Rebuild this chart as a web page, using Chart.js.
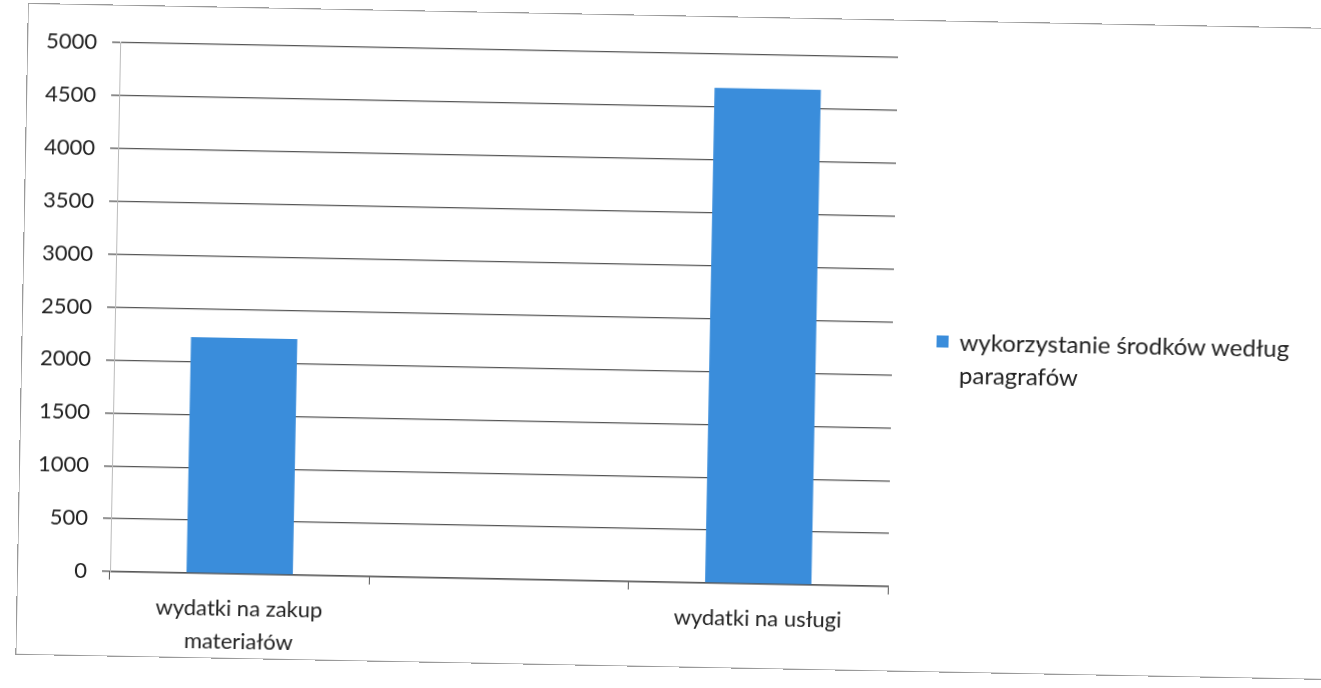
<!DOCTYPE html>
<html>
<head>
<meta charset="utf-8">
<script src="https://cdn.jsdelivr.net/npm/chart.js@4/dist/chart.umd.min.js"></script>
<style>
  html, body { margin: 0; padding: 0; background: #fff; overflow: hidden; }
  #wrap {
    position: absolute; left: 0; top: 0; width: 1321px; height: 688px;
    transform-origin: 500px 315px; transform: rotate(1.1deg);
  }
  #frame {
    position: absolute; left: 22px; top: 12px; width: 1330px; height: 650px;
    border: 1px solid #9a9a9a;
  }
  #legend {
    position: absolute; left: 937px; top: 316px;
    font-family: Lato, sans-serif; font-size: 24px; color: #222; line-height: 33px;
  }
  #legend .box {
    position: absolute; left: 0; top: 11px; width: 12px; height: 12px; background: #3a8ddb;
  }
  #legend .txt { position: absolute; left: 23px; top: 0; white-space: nowrap; }
</style>
</head>
<body>
<div id="wrap">
  <div id="frame"></div>
  <canvas id="chart" width="1321" height="688"></canvas>
  <div id="legend">
    <div class="box"></div>
    <div class="txt">wykorzystanie środków według<br>paragrafów</div>
  </div>
</div>
<script>
// dane wykresu
var categories = [['wydatki na zakup', 'materiałów'], '', 'wydatki na usługi'];
var seriesName = 'wykorzystanie środków według paragrafów';
var values = [2230, null, 4680];
var yTicks = [0, 500, 1000, 1500, 2000, 2500, 3000, 3500, 4000, 4500, 5000];

document.addEventListener('DOMContentLoaded', function () {
    var ctx = document.getElementById('chart').getContext('2d');
    new Chart(ctx, {
        type: 'bar',
        data: {
            labels: categories,
            datasets: [{
                label: seriesName,
                data: values,
                backgroundColor: '#3a8ddb',
                borderWidth: 0,
                categoryPercentage: 1,
                barPercentage: 0.41
            }]
        },
        options: {
            responsive: false,
            animation: false,
            layout: { padding: { top: 50, right: 428, bottom: 0, left: 0 } },
            plugins: {
                legend: { display: false },
                tooltip: { enabled: false }
            },
            scales: {
                x: {
                    grid: { display: true, drawOnChartArea: false, offset: true, color: '#555', tickLength: 8 },
                    border: { display: true, color: '#555', width: 1.5 },
                    ticks: {
                        color: '#222',
                        padding: 10,
                        font: { family: 'Lato', size: 22, lineHeight: 1.5 }
                    },
                    afterFit: function (scale) { scale.height = 109; }
                },
                y: {
                    min: 0,
                    max: 5000,
                    afterBuildTicks: function (scale) {
                        scale.ticks = yTicks.map(function (v) { return { value: v }; });
                    },
                    grid: { color: '#555', lineWidth: 1.3, tickLength: 8 },
                    border: { display: true, color: '#bbb', width: 1 },
                    ticks: {
                        color: '#222',
                        padding: 15,
                        font: { family: 'Lato', size: 22 },
                        callback: function (v) { return String(v); }
                    },
                    afterFit: function (scale) { scale.width = 115; }
                }
            }
        }
    });
});
</script>
</body>
</html>
